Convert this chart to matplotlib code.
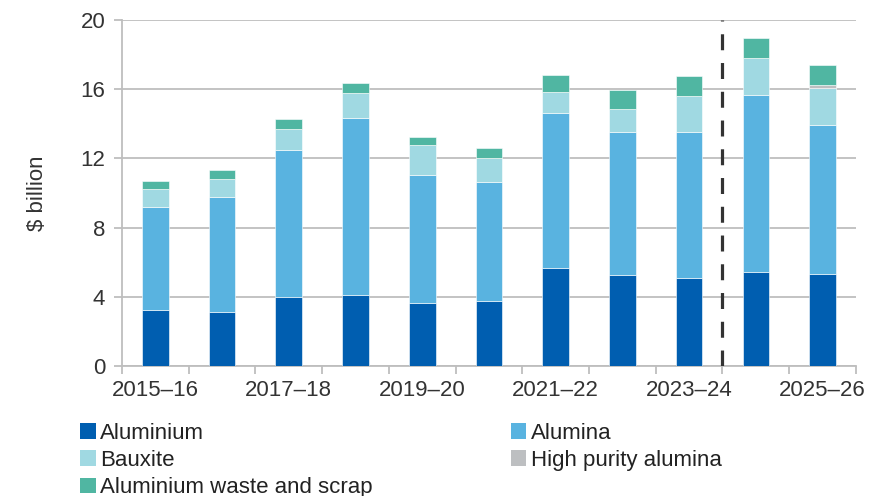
import matplotlib.pyplot as plt
from matplotlib.patches import Patch
import numpy as np

plt.rcParams['font.family'] = ['Liberation Sans', 'DejaVu Sans']

# years and values in $ billion
anos = ['2015–16', '2016–17', '2017–18', '2018–19', '2019–20', '2020–21',
        '2021–22', '2022–23', '2023–24', '2024–25', '2025–26']
aluminium = [3.22, 3.14, 3.97, 4.09, 3.66, 3.76, 5.67, 5.27, 5.09, 5.42, 5.32]
alumina = [5.96, 6.62, 8.51, 10.26, 7.39, 6.87, 8.97, 8.25, 8.43, 10.26, 8.60]
bauxite = [1.04, 1.04, 1.23, 1.43, 1.70, 1.40, 1.21, 1.33, 2.08, 2.10, 2.13]
hpa = [0, 0, 0, 0, 0, 0, 0, 0, 0, 0, 0.19]
sucata = [0.45, 0.50, 0.56, 0.59, 0.48, 0.56, 0.97, 1.12, 1.18, 1.18, 1.18]

series = [('Aluminium', aluminium, '#005EB0'),
          ('Alumina', alumina, '#59B3E0'),
          ('Bauxite', bauxite, '#A0D9E2'),
          ('High purity alumina', hpa, '#BDBFC1'),
          ('Aluminium waste and scrap', sucata, '#50B6A2')]

fig = plt.figure(figsize=(8.77, 4.96), dpi=100)
ax = fig.add_axes([0.139, 0.262, 0.837, 0.698])

x = np.arange(len(anos))
base = np.zeros(len(anos))
handles = {}
for nome, vals, cor in series:
    ax.bar(x, vals, 0.4, bottom=base, color=cor, edgecolor='white', linewidth=0.4, zorder=3)
    base += np.array(vals)
    handles[nome] = Patch(facecolor=cor, edgecolor='none')

# linha tracejada entre historico e projecao
ax.plot([8.5, 8.5], [0, 20], color='#333333', lw=2.3, dashes=(5, 4), zorder=4)

cinza = '#BEBEBE'
ax.set_xlim(-0.5, 10.5)
ax.set_ylim(0, 20)
ax.set_yticks([0, 4, 8, 12, 16, 20])
ax.yaxis.grid(True, color=cinza, lw=1.3, zorder=0)
ax.set_xticks(np.arange(-0.5, 11, 1), minor=False)
ax.set_xticklabels([])
ax.set_xticks(x[::2], minor=True)
ax.set_xticklabels(anos[::2], minor=True)
ax.tick_params(axis='x', which='major', length=6, width=1.3, color=cinza)
ax.tick_params(axis='x', which='minor', length=0, pad=10, labelsize=16, labelcolor='#333333')
ax.tick_params(axis='y', length=6, width=1.3, color=cinza, labelsize=16, labelcolor='#333333', pad=6)
for s in ['top', 'right']:
    ax.spines[s].set_visible(False)
for s in ['left', 'bottom']:
    ax.spines[s].set_color(cinza)
    ax.spines[s].set_linewidth(1.3)
ax.set_ylabel('$ billion', fontsize=16, color='#333333', labelpad=23)

ordem = ['Aluminium', 'Bauxite', 'Aluminium waste and scrap', 'Alumina', 'High purity alumina']
fig.legend([handles[n] for n in ordem], ordem, ncol=2, loc='upper left',
           bbox_to_anchor=(0.079, 0.17), frameon=False, fontsize=16,
           handlelength=0.7, handleheight=0.7, handletextpad=0.2,
           columnspacing=6.2, labelspacing=0.28, borderpad=0, labelcolor='#222222')

fig.savefig('out.png', dpi=100)
